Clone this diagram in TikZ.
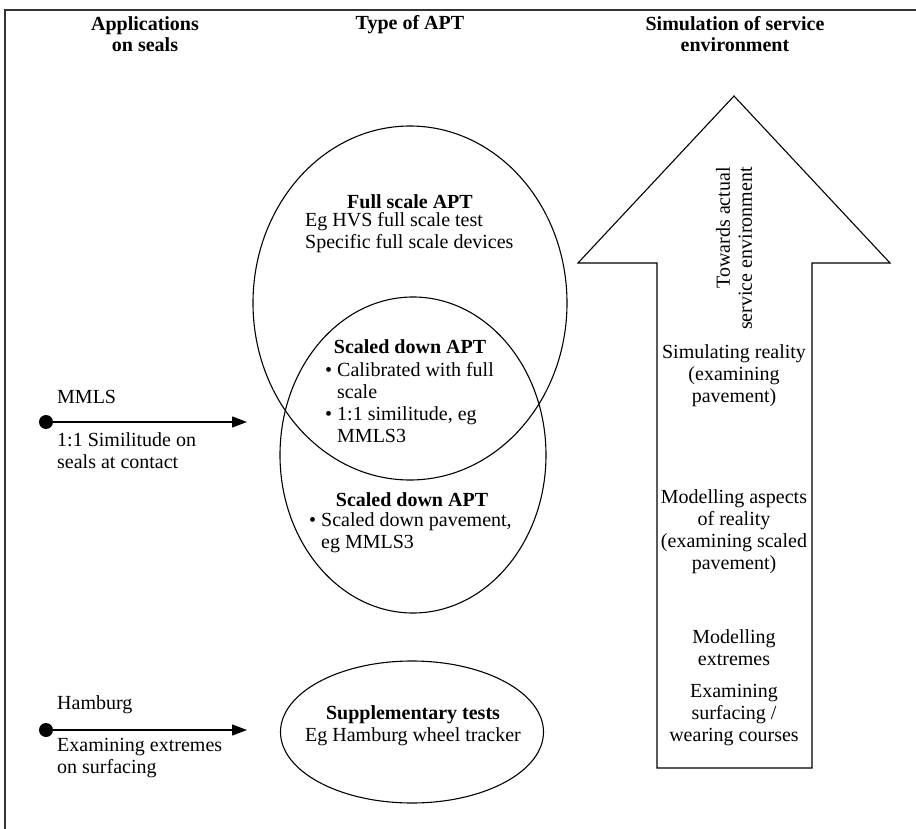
\documentclass[tikz,border=0pt]{standalone}
\usepackage{fontspec}
\setmainfont{Liberation Serif}
\usetikzlibrary{arrows.meta,shapes.geometric}
\begin{document}
\begin{tikzpicture}[x=1pt,y=-1pt,
  txt/.style={inner sep=0pt, font=\fontsize{20}{22}\selectfont},
  btxt/.style={inner sep=0pt, font=\fontsize{20}{22}\selectfont\bfseries},
  head/.style={inner sep=0pt, align=center, font=\fontsize{20}{20.5}\selectfont\bfseries},
  ell/.style={draw, line width=1.1pt, ellipse, inner sep=0pt},
  dotnode/.style={circle, fill=black, inner sep=0pt, minimum size=14pt},
  conn/.style={line width=1.3pt, -{Triangle[length=15pt,width=11pt]}},
  bigarrow/.style={draw, line width=1.1pt},
  framel/.style={draw=black!80, line width=2.6pt}
]
\useasboundingbox (0,0) rectangle (916,829);
% frame
\draw[framel] (5,840) -- (5,10) -- (930,10);

% headings
\node[head] (h1) at (145,34) {Applications\\on seals};
\node[head] (h2) at (410,25) {Type of APT};
\node[head] (h3) at (735,34) {Simulation of service\\environment};

% ellipses
\node[ell, minimum width=314pt, minimum height=354pt] (full) at (410,303) {};
\node[ell, minimum width=266pt, minimum height=316pt] (scaled) at (413,455) {};
\node[ell, minimum width=263pt, minimum height=142pt] (supp) at (412,732) {};

% texts in ellipses
\node[btxt] (t1) at (410,202) {Full scale APT};
\node[txt, align=left, anchor=west] (t2) at (305,233) {Eg HVS full scale test\\Specific full scale devices};

\node[btxt] (t3) at (410,347) {Scaled down APT};
\node[txt, align=left, anchor=west] (t4) at (325,403) {• Calibrated with full\\\hphantom{• }scale\\• 1:1 similitude, eg\\\hphantom{• }MMLS3};

\node[btxt] (t5) at (412,500) {Scaled down APT};
\node[txt, align=left, anchor=west] (t6) at (309,533) {• Scaled down pavement,\\\hphantom{• }eg MMLS3};

\node[btxt] (t7) at (413,715) {Supplementary tests};
\node[txt] (t8) at (413,737) {Eg Hamburg wheel tracker};

% left labels and connectors
\node[dotnode] (d1) at (46,422) {};
\coordinate (e1) at (247,422);
\draw[conn] (d1.center) -- (e1);
\node[txt, anchor=west] (l1) at (57,397) {MMLS};
\node[txt, align=left, anchor=west] (l2) at (57,451) {1:1 Similitude on\\seals at contact};

\node[dotnode] (d2) at (46,730) {};
\coordinate (e2) at (247,730);
\draw[conn] (d2.center) -- (e2);
\node[txt, anchor=west] (l3) at (57,705) {Hamburg};
\node[txt, align=left, anchor=west] (l4) at (57,758) {Examining extremes\\on surfacing};

% big arrow
\draw[bigarrow] (657,768) -- (657,263) -- (578,263) -- (734,96) -- (890,263) -- (812,263) -- (812,768) -- cycle;
\node[txt, rotate=90, anchor=east, align=right] (r1) at (734,167) {Towards actual\\service environment};
\node[txt, align=center] (a1) at (734,376) {Simulating reality\\(examining\\pavement)};
\node[txt, align=center] (a2) at (734,532) {Modelling aspects\\of reality\\(examining scaled\\pavement)};
\node[txt, align=center] (a3) at (734,648) {Modelling\\extremes};
\node[txt, align=center] (a4) at (734,715) {Examining\\surfacing /\\wearing courses};
\end{tikzpicture}
\end{document}
